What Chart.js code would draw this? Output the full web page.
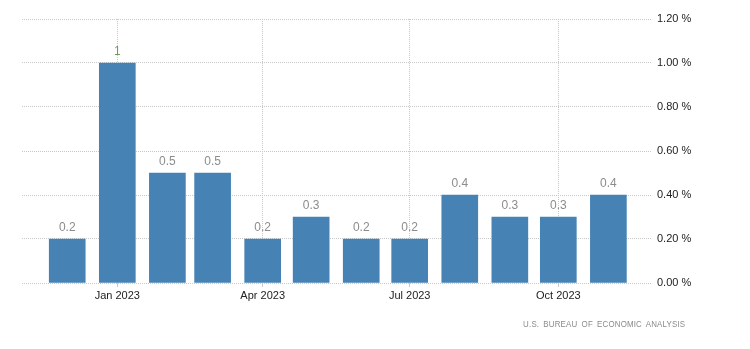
<!DOCTYPE html>
<html>
<head>
<meta charset="utf-8">
<script src="https://cdn.jsdelivr.net/npm/chart.js@4"></script>
<style>
  html, body { margin: 0; padding: 0; background: #fff; }
  #wrap { position: relative; width: 750px; height: 349px; }
  #src { position: absolute; right: 65px; top: 319px; font: 9px "Liberation Sans", Arial, sans-serif; color: #8a8a8a; letter-spacing: 0.2px; word-spacing: 2px; white-space: nowrap; transform: scaleX(0.88); transform-origin: right center; }
</style>
</head>
<body>
<div id="wrap">
  <canvas id="c" width="750" height="349"></canvas>
  <div id="src">U.S. BUREAU OF ECONOMIC ANALYSIS</div>
</div>
<script>
// ---- data ----
const months = ['2022-12','2023-01','2023-02','2023-03','2023-04','2023-05','2023-06','2023-07','2023-08','2023-09','2023-10','2023-11'];
const values = [0.2, 1, 0.5, 0.5, 0.2, 0.3, 0.2, 0.2, 0.4, 0.3, 0.3, 0.4];
const tickMonths = ['2023-01','2023-04','2023-07','2023-10'];
const tickLabels = ['Jan 2023','Apr 2023','Jul 2023','Oct 2023'];
const yTicks = [0, 0.2, 0.4, 0.6, 0.8, 1.0, 1.2];

// ---- helpers ----
const base = Date.UTC(2022, 11, 1);
function dayOf(m) {
  const [y, mo] = m.split('-').map(Number);
  return (Date.UTC(y, mo - 1, 1) - base) / 86400000;
}
const points = months.map((m, i) => ({ x: dayOf(m), y: values[i] }));
const tickDays = tickMonths.map(dayOf);
const maxVal = Math.max(...values);

const gridColor = '#c8c8c8';
const font = { family: '"Liberation Sans", Arial, sans-serif', size: 11 };

const valueLabels = {
  id: 'valueLabels',
  afterDatasetsDraw(chart) {
    const ctx = chart.ctx;
    const meta = chart.getDatasetMeta(0);
    ctx.save();
    ctx.font = '12px "Liberation Sans", Arial, sans-serif';
    ctx.textAlign = 'center';
    ctx.textBaseline = 'alphabetic';
    meta.data.forEach((bar, i) => {
      const v = values[i];
      ctx.fillStyle = v === maxVal ? '#6a9f5a' : '#8c8c8c';
      ctx.fillText(String(v), bar.x, bar.y - 8);
    });
    ctx.restore();
  }
};

new Chart(document.getElementById('c'), {
  type: 'bar',
  data: {
    datasets: [{
      data: points,
      backgroundColor: '#4682b4',
      borderWidth: 0,
      barThickness: 36
    }]
  },
  options: {
    responsive: false,
    animation: false,
    layout: { padding: { left: 22, top: 19, right: 0, bottom: 0 } },
    plugins: { legend: { display: false }, tooltip: { enabled: false } },
    scales: {
      x: {
        type: 'linear',
        offset: false,
        min: -28,
        max: 362,
        bounds: 'ticks',
        afterDataLimits: (s) => { s.min = -28; s.max = 362; },
        afterBuildTicks: (s) => { s.ticks = tickDays.map(v => ({ value: v })); },
        afterFit: (s) => { s.height = 66; },
        ticks: {
          autoSkip: false,
          maxRotation: 0,
          padding: 2,
          color: '#222',
          font: font,
          callback: (v) => { const i = tickDays.indexOf(v); return i >= 0 ? tickLabels[i] : ''; }
        },
        grid: {
          offset: false,
          color: gridColor,
          lineWidth: 1,
          drawTicks: true,
          tickLength: 4,
          tickBorderDash: [1, 0],
          tickColor: gridColor
        },
        border: { display: false, dash: [1, 1] }
      },
      y: {
        position: 'right',
        min: 0,
        max: 1.2,
        afterBuildTicks: (s) => { s.ticks = yTicks.map(v => ({ value: v })); },
        afterFit: (s) => { s.width = 98; },
        ticks: {
          padding: 5,
          color: '#222',
          font: font,
          callback: (v) => v.toFixed(2) + ' %'
        },
        grid: { color: gridColor, lineWidth: 1, drawTicks: false },
        border: { display: false, dash: [1, 1] }
      }
    }
  },
  plugins: [valueLabels]
});
</script>
</body>
</html>
